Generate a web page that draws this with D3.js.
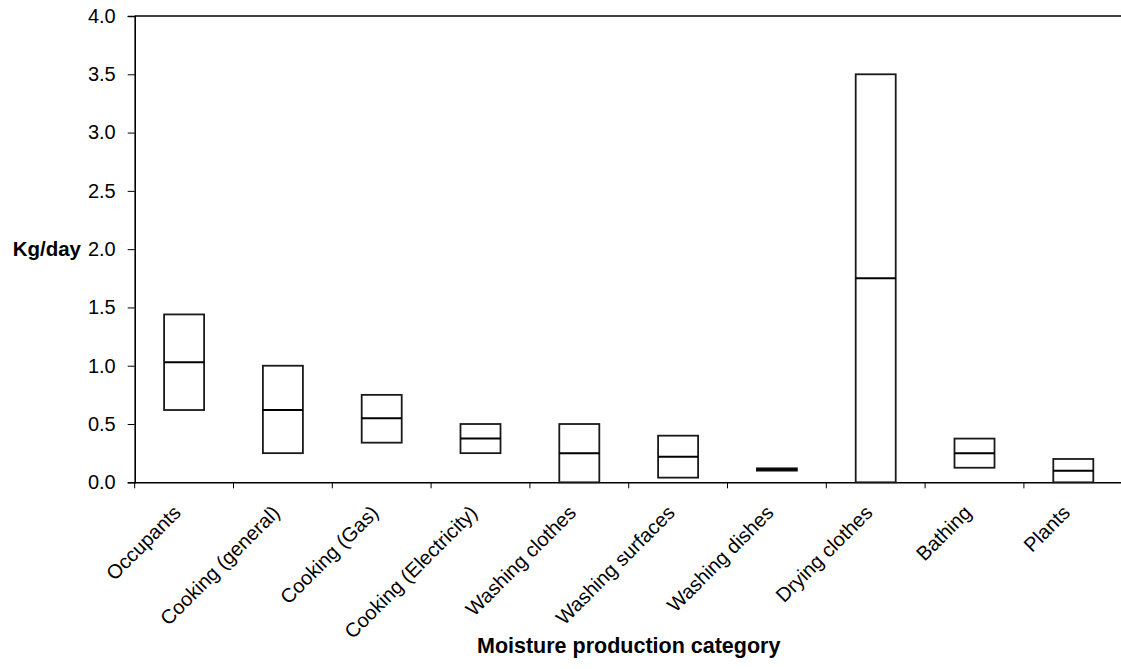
<!DOCTYPE html>
<html>
<head>
<meta charset="utf-8">
<script src="https://cdn.jsdelivr.net/npm/d3@7"></script>
<style>
  html, body { margin: 0; padding: 0; background: #fff; }
  svg { display: block; font-family: "Liberation Sans", Arial, sans-serif; }
</style>
</head>
<body>
<svg id="chart" width="1121" height="669"></svg>
<script>
const categories = ["Occupants", "Cooking (general)", "Cooking (Gas)", "Cooking (Electricity)",
  "Washing clothes", "Washing surfaces", "Washing dishes", "Drying clothes", "Bathing", "Plants"];
const lowValues    = [0.62, 0.25, 0.34, 0.25, 0.00, 0.04, 0.10, 0.00, 0.125, 0.00];
const medianValues = [1.03, 0.62, 0.55, 0.375, 0.25, 0.22, 0.11, 1.75, 0.25, 0.10];
const highValues   = [1.44, 1.00, 0.75, 0.50, 0.50, 0.40, 0.12, 3.50, 0.375, 0.20];
const yTickValues  = [0, 0.5, 1, 1.5, 2, 2.5, 3, 3.5, 4];
const yTitle = "Kg/day";
const xTitle = "Moisture production category";

(function () {
const svg = d3.select("#chart");
const plotLeft = 134.7, step = 98.8, plotTop = 16, plotBottom = 482.3;
const x = d3.scaleBand().domain(categories).range([plotLeft, plotLeft + step * categories.length]).padding(0);
const y = d3.scaleLinear().domain([0, 4]).range([plotBottom, plotTop]);
const boxW = x.bandwidth() * 0.405;
const ink = "#000";

// top frame line
svg.append("line").attr("x1", plotLeft).attr("x2", x.range()[1]).attr("y1", y(4)).attr("y2", y(4))
  .attr("stroke", ink).attr("stroke-width", 1.6);

// y axis
const yAxis = svg.append("g").attr("transform", `translate(${plotLeft},0)`)
  .call(d3.axisLeft(y).tickValues(yTickValues).tickFormat(d3.format(".1f")).tickSize(7).tickPadding(12));
yAxis.select(".domain").attr("stroke", ink).attr("stroke-width", 1.6);
yAxis.selectAll(".tick line").attr("stroke", ink).attr("stroke-width", 1);
yAxis.selectAll(".tick text").attr("font-size", 20).attr("fill", "#000")
  .attr("font-family", "Liberation Sans, Arial, sans-serif");

// x axis (ticks at category boundaries)
const xAxis = svg.append("g").attr("transform", `translate(0,${plotBottom})`)
  .call(d3.axisBottom(x).tickSize(0).tickFormat(""));
xAxis.select(".domain").attr("stroke", ink).attr("stroke-width", 1.6);
const boundaries = categories.map(c => x(c)).concat([x.range()[1]]);
svg.append("g").selectAll("line").data(boundaries).join("line")
  .attr("x1", d => d).attr("x2", d => d).attr("y1", plotBottom).attr("y2", plotBottom + 6)
  .attr("stroke", ink).attr("stroke-width", 1);

// x labels
svg.append("g").selectAll("text").data(categories).join("text")
  .attr("transform", d => `translate(${x(d) + x.bandwidth() / 2 - 2},514) rotate(-45)`)
  .attr("text-anchor", "end").attr("font-size", 20).attr("fill", "#000")
  .text(d => d);

// boxes
const data = categories.map((c, i) => ({ c, lo: lowValues[i], mid: medianValues[i], hi: highValues[i] }));
const g = svg.append("g");
g.selectAll("rect").data(data).join("rect")
  .attr("x", d => x(d.c) + (x.bandwidth() - boxW) / 2)
  .attr("y", d => y(d.hi))
  .attr("width", boxW)
  .attr("height", d => y(d.lo) - y(d.hi))
  .attr("fill", "none").attr("stroke", "#1a1a1a").attr("stroke-width", 1.8);
g.selectAll("line.med").data(data).join("line").attr("class", "med")
  .attr("x1", d => x(d.c) + (x.bandwidth() - boxW) / 2)
  .attr("x2", d => x(d.c) + (x.bandwidth() + boxW) / 2)
  .attr("y1", d => y(d.mid)).attr("y2", d => y(d.mid))
  .attr("stroke", ink).attr("stroke-width", 2);

// titles
svg.append("text").attr("x", 81).attr("y", y(2)).attr("dy", "0.34em")
  .attr("text-anchor", "end").attr("font-weight", "bold").attr("font-size", 20.5).text(yTitle);
svg.append("text").attr("x", (plotLeft + x.range()[1]) / 2).attr("y", 653)
  .attr("text-anchor", "middle").attr("font-weight", "bold").attr("font-size", 21.5).text(xTitle);
})();
</script>
</body>
</html>
